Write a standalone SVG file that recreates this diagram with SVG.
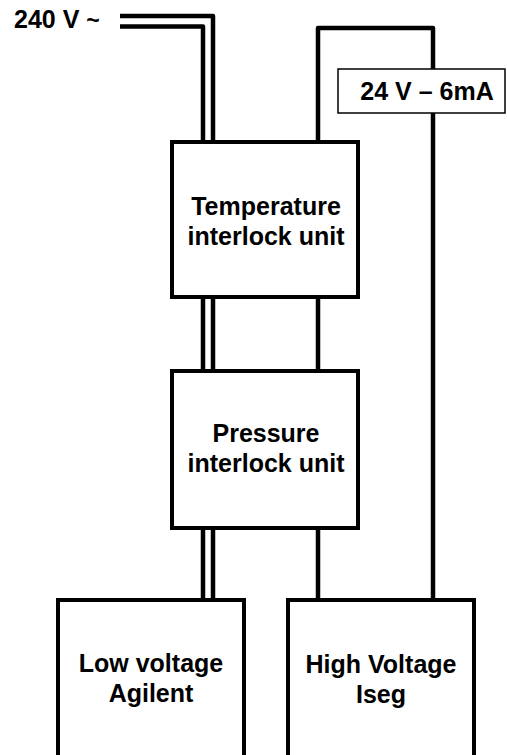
<svg xmlns="http://www.w3.org/2000/svg" width="507" height="755" viewBox="0 0 507 755">
<style>
.box{fill:#fff;stroke:#000;stroke-width:4}
.w{fill:none;stroke:#000;stroke-width:4.5;stroke-linejoin:round}
.t{font-family:"Liberation Sans",Arial,sans-serif;font-weight:bold;font-size:25px;fill:#000;text-anchor:middle}
.lab{fill:#fff;stroke:#000;stroke-width:1.5}
</style>
<rect width="507" height="755" fill="#fff"/>
<g id="connectors">
<path class="w" d="M120 16 H213 V142"/>
<path class="w" d="M120 26.5 H203 V142"/>
<path class="w" d="M203 297 V371 M213 297 V371"/>
<path class="w" d="M203 528 V600 M213 528 V600"/>
<path class="w" d="M318 142 V28 H433 V600"/>
<path class="w" d="M318 297 V371 M318 528 V600"/>
</g>
<g id="label-240">
<text class="t" x="14" y="28" style="text-anchor:start">240 V <tspan font-size="23">~</tspan></text>
</g>
<g id="label-24v">
<rect class="lab" x="338" y="69" width="167" height="44"/>
<text class="t" x="427" y="100">24 V – 6mA</text>
</g>
<g id="temperature">
<rect class="box" x="172" y="142" width="186" height="155"/>
<text class="t" x="266" y="215">Temperature</text>
<text class="t" x="266" y="245">interlock unit</text>
</g>
<g id="pressure">
<rect class="box" x="172" y="371" width="186" height="157"/>
<text class="t" x="266" y="442">Pressure</text>
<text class="t" x="266" y="472">interlock unit</text>
</g>
<g id="low-voltage">
<rect class="box" x="58" y="600" width="186" height="165"/>
<text class="t" x="151" y="672">Low voltage</text>
<text class="t" x="151" y="702">Agilent</text>
</g>
<g id="high-voltage">
<rect class="box" x="288" y="600" width="186" height="165"/>
<text class="t" x="381" y="673">High Voltage</text>
<text class="t" x="381" y="703">Iseg</text>
</g>
</svg>
